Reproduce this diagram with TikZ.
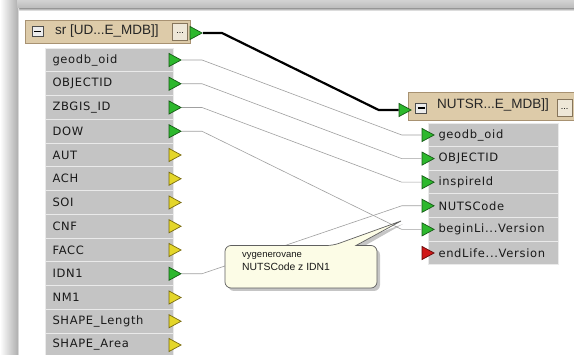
\documentclass[tikz,border=0pt]{standalone}
\usepackage{fontspec}
\newfontfamily\rowfont{DejaVu Sans}[LetterSpace=6]
\newfontfamily\hdrfont{Liberation Sans}
\usetikzlibrary{shapes.geometric,shadows}
\definecolor{rowgray}{HTML}{C4C4C4}
\definecolor{rowline}{HTML}{EAEAEA}
\definecolor{tan}{HTML}{DDCBA9}
\definecolor{tanline}{HTML}{A89272}
\definecolor{btnfill}{HTML}{EEE7D7}
\definecolor{tgreen}{HTML}{2DB82D}
\definecolor{tgreenD}{HTML}{175A17}
\definecolor{tyellow}{HTML}{E4D62A}
\definecolor{tyellowD}{HTML}{7A6C10}
\definecolor{tred}{HTML}{D01818}
\definecolor{tredD}{HTML}{640808}
\definecolor{wire}{HTML}{A0A0A0}
\definecolor{tipfill}{HTML}{FCFCE6}
\tikzset{
  lrow/.style={rectangle, fill=rowgray, draw=rowline, line width=1pt,
    minimum width=128pt, minimum height=23.75pt, text width=114pt,
    inner xsep=7pt, align=left, anchor=west,
    font=\rowfont\fontsize{11.5}{12}\selectfont, text=black!90},
  rrow/.style={lrow, minimum width=130pt, minimum height=23.6pt,
    text width=110pt, inner xsep=10pt},
  tri/.style={isosceles triangle, isosceles triangle stretches,
    minimum width=13pt, minimum height=12pt, inner sep=0pt,
    anchor=apex, line width=0.7pt},
  tg/.style={tri, fill=tgreen, draw=tgreenD},
  ty/.style={tri, fill=tyellow, draw=tyellowD},
  tr/.style={tri, fill=tred, draw=tredD},
  hdr/.style={rectangle, fill=tan, draw=tanline, line width=0.8pt},
  hdrtext/.style={anchor=west, inner sep=0pt, font=\hdrfont\fontsize{13.5}{13.5}\selectfont, text=black!85},
  btn/.style={rectangle, fill=btnfill, draw=tanline!80!black, line width=0.6pt,
    inner sep=0pt, minimum width=15pt, minimum height=17pt,
    font=\hdrfont\fontsize{9}{9}\selectfont},
  minusbox/.style={rectangle, fill=gray!15, draw=gray!60!black, line width=0.8pt,
    minimum width=11pt, minimum height=10pt, inner sep=0pt,
    path picture={\draw[line width=1.8pt, black]
      ([xshift=-3.5pt]path picture bounding box.center) --
      ([xshift=3.5pt]path picture bounding box.center);}},
  wireline/.style={draw=wire, line width=0.6pt},
  bus/.style={draw=black, line width=2.2pt, line join=round},
}
\begin{document}
\begin{tikzpicture}[x=1pt, y=-1pt]
\useasboundingbox (0,0) rectangle (574,355);
\clip (0,0) rectangle (574,355);
% background with shadow edges
\fill[white] (0,0) rectangle (574,355);
\shade[left color=white, right color=gray!60] (0,0) rectangle (17,355);
\shade[top color=gray!35, bottom color=gray!55] (17,0) rectangle (574,9);
\shade[top color=gray!55, bottom color=white] (17,9) rectangle (574,11);
\shade[left color=gray!60, right color=white] (17,9) rectangle (19,355);

% left feature type
\node[hdr, minimum width=165pt, minimum height=23pt] (lhdr) at (107.5,31.5) {};
\node[minusbox] (lmin) at (37.5,31.5) {};
\node[hdrtext] (ltxt) at (55,31.5) {sr [UD...E\_MDB]]};
\node[btn] (lbtn) at (180,31.5) {\raisebox{-4pt}{...}};

\foreach \i/\t in {0/geodb\_oid,1/OBJECTID,2/ZBGIS\_ID,3/DOW,4/AUT,5/ACH,6/SOI,7/CNF,8/FACC,9/IDN1,10/NM1,11/SHAPE\_Length,12/SHAPE\_Area}{
  \node[lrow] (l\i) at (45,{60+23.75*\i}) {\t};
}
\node[tg] (lh) at (203,33) {};
\foreach \i in {0,1,2,3,9}{ \node[tg] (lt\i) at (182,{60+23.75*\i}) {}; }
\foreach \i in {4,5,6,7,8,10,11,12}{ \node[ty] (lt\i) at (182,{60+23.75*\i}) {}; }

% right feature type
\node[hdr, minimum width=182pt, minimum height=28pt] (rhdr) at (499,106) {};
\node[minusbox] (rmin) at (421,108) {};
\node[hdrtext] (rtxt) at (437,105.5) {NUTSR...E\_MDB]]};
\node[btn] (rbtn) at (564.5,107.5) {\raisebox{-4pt}{...}};
\node[rrow] (r0) at (428,135) {geodb\_oid};
\node[rrow] (r1) at (428,158.6) {OBJECTID};
\node[rrow] (r2) at (428,182.2) {inspireId};
\node[rrow] (r3) at (428,205.8) {NUTSCode};
\node[rrow] (r4) at (428,229.4) {beginLi...Version};
\node[rrow] (r5) at (428,253) {endLife...Version};
\node[tg] (rh) at (412,110) {};
\node[tg] (rt0) at (435,135) {};
\node[tg] (rt1) at (435,158.6) {};
\node[tg] (rt2) at (435,182.2) {};
\node[tg] (rt3) at (435,205.8) {};
\node[tg] (rt4) at (435,229.4) {};
\node[tr] (rt5) at (435,253) {};

% connectors
\draw[bus] (lh.apex) -- ++(19,0) -- ([xshift=-20pt]rh.west) -- (rh.west);
\foreach \a/\b in {0/0,1/1,2/2,3/4,9/3}{
  \draw[wireline] (lt\a.apex) -- ++(20,0) -- ([xshift=-20pt]rt\b.west) -- (rt\b.west);
}

% annotation (callout drawn directly)
\fill[gray, opacity=0.45, rounded corners=6pt]
  (336,249) [sharp corners]-- (403,224) -- (359,249) [rounded corners=6pt]
  -- (380,249) -- (380,291) -- (228,291) -- (228,249) -- cycle;
\filldraw[fill=tipfill, draw=gray!75!black, line width=0.7pt, rounded corners=6pt]
  (333,245.5) [sharp corners]-- (401,221) -- (356,245.5) [rounded corners=6pt]
  -- (377,245.5) -- (377,288) -- (225,288) -- (225,245.5) -- cycle;
\node[anchor=north west, align=left, inner sep=0pt, text=black!90,
  font=\hdrfont\fontsize{9.5}{13}\selectfont] (ttx) at (242,252)
  {vygenerovane\\{\fontsize{10.4}{13}\selectfont NUTSCode z IDN1}};
\end{tikzpicture}
\end{document}
